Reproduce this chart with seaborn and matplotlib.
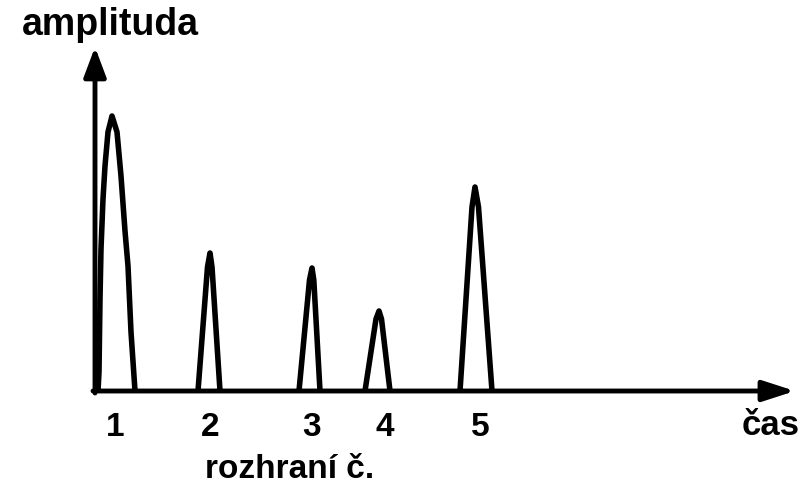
import matplotlib
matplotlib.use("Agg")
import matplotlib.pyplot as plt
import seaborn as sns
import pandas as pd

# Peak outlines: time (px from origin) and amplitude (px above baseline)
peak1_t = [3, 4, 5, 6, 8, 10, 13, 17, 22, 26, 30, 33, 36, 40]
peak1_a = [0, 19, 92, 142, 192, 225, 259, 275, 259, 215, 160, 125, 59, 0]
peak2_t = [103, 112.5, 115, 117, 125]
peak2_a = [0, 124, 138, 124, 0]
peak3_t = [204, 214.5, 217, 218.8, 225]
peak3_a = [0, 111, 123, 111, 0]
peak4_t = [270, 281, 284, 286.5, 295]
peak4_a = [0, 72, 80, 72, 0]
peak5_t = [365, 377, 380, 383.5, 397]
peak5_a = [0, 184, 204, 184, 0]
peak_labels = ["1", "2", "3", "4", "5"]
label_t = [20, 115, 217, 290, 385]
x_label = "čas"
y_label = "amplituda"
sub_label = "rozhraní č."

peaks_t = [peak1_t, peak2_t, peak3_t, peak4_t, peak5_t]
peaks_a = [peak1_a, peak2_a, peak3_a, peak4_a, peak5_a]
rows = []
for i, (ts, as_) in enumerate(zip(peaks_t, peaks_a)):
    for j, (t, a) in enumerate(zip(ts, as_)):
        rows.append({"peak": i, "order": j, "t": t, "a": a})
df = pd.DataFrame(rows)

sns.set_theme(style="white")
plt.rcParams["font.family"] = ["Liberation Sans", "DejaVu Sans"]
plt.rcParams["text.color"] = "black"

fig = plt.figure(figsize=(8.1, 4.85), dpi=100)
ax = fig.add_axes([0, 0, 1, 1])
ax.set_xlim(-95, 715)
ax.set_ylim(-93, 392)
ax.set_axis_off()

sns.lineplot(data=df, x="t", y="a", units="peak", estimator=None, sort=False,
             color="black", linewidth=4.0, ax=ax, legend=False)
for line in ax.get_lines():
    line.set_solid_joinstyle("round")
    line.set_solid_capstyle("butt")

# axes with arrows
ax.annotate("", xy=(0, 344), xytext=(0, -2),
            arrowprops=dict(arrowstyle="-|>,head_length=1.2,head_width=0.45",
                            lw=3.5, color="black", mutation_scale=15, shrinkA=0, shrinkB=0))
ax.annotate("", xy=(700, 0), xytext=(-2, 0),
            arrowprops=dict(arrowstyle="-|>,head_length=1.3,head_width=0.42",
                            lw=3.5, color="black", mutation_scale=15, shrinkA=0, shrinkB=0))

for lab, t in zip(peak_labels, label_t):
    ax.text(t, -44, lab, ha="center", va="baseline", fontsize=24, fontweight="bold", color="black")

ax.text(647, -43, x_label, ha="left", va="baseline", fontsize=25, fontweight="bold", color="black")
ax.text(110, -86, sub_label, ha="left", va="baseline", fontsize=24, fontweight="bold", color="black")
ax.text(-73, 357, y_label, ha="left", va="baseline", fontsize=27, fontweight="bold", color="black")

fig.savefig("out.png", dpi=100)
